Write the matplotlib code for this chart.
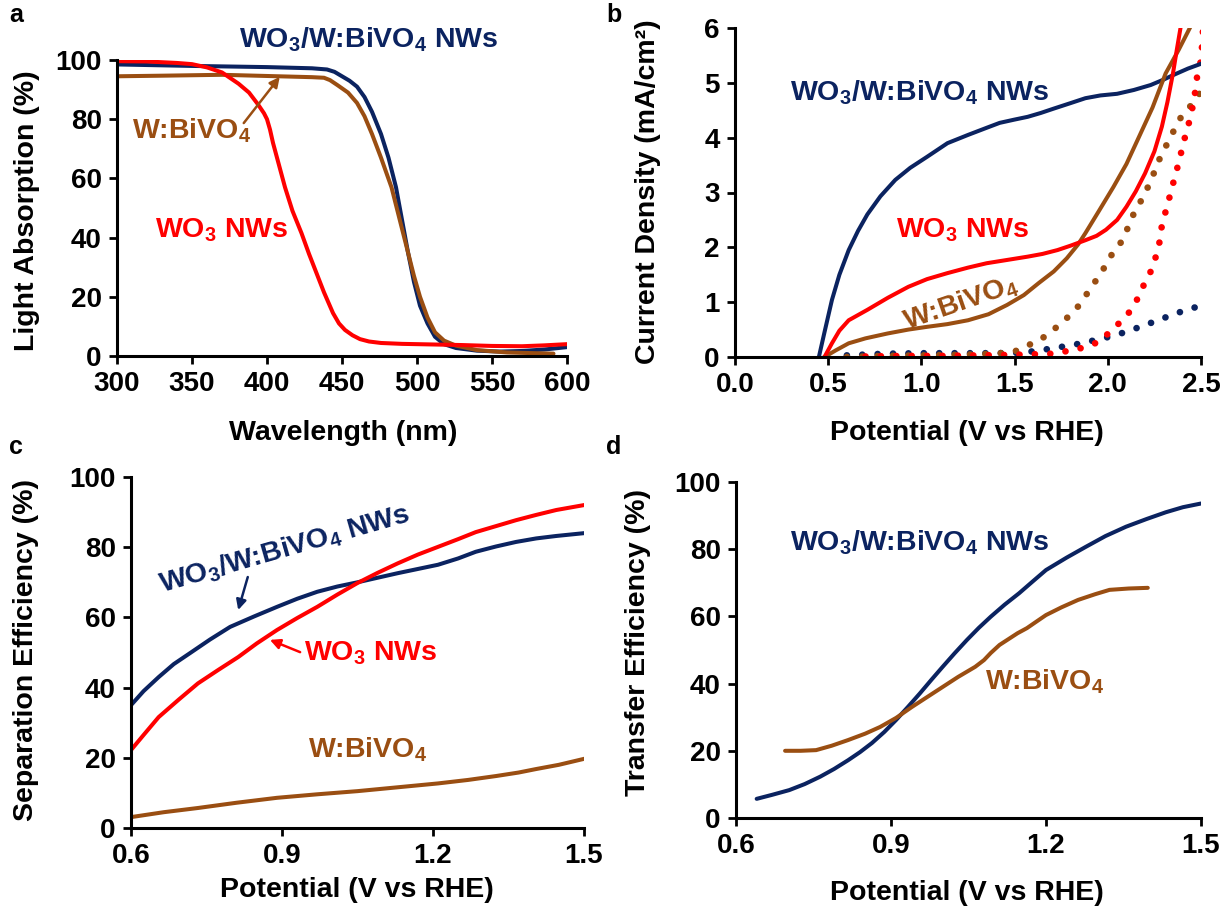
import matplotlib
matplotlib.use("Agg")
import matplotlib.pyplot as plt
import numpy as np

plt.rcParams['font.family'] = ['Liberation Sans', 'DejaVu Sans']
plt.rcParams['font.weight'] = 'bold'
plt.rcParams['mathtext.fontset'] = 'custom'
plt.rcParams['mathtext.rm'] = 'Liberation Sans:bold'
plt.rcParams['mathtext.bf'] = 'Liberation Sans:bold'
plt.rcParams['mathtext.it'] = 'Liberation Sans:bold'
plt.rcParams['mathtext.default'] = 'bf'

NAVY = '#0B2360'
RED = '#FF0000'
BROWN = '#9A4E12'

# ---------------- Panel a: light absorption ----------------
wl_navy = [300, 350, 400, 430, 440, 445, 450, 455, 460, 465, 470, 476, 481, 486, 490, 494, 498, 502, 507,
           512, 518, 526, 540, 555, 570, 585, 600]
abs_navy = [98.5, 98.0, 97.6, 97.2, 96.8, 96.0, 94.5, 93, 91, 87.5, 82.5, 75, 67, 57, 46, 35, 25, 17, 11,
            6.5, 4.0, 2.7, 1.8, 1.5, 1.7, 2.2, 3.0]
wl_brown = [300, 330, 370, 400, 430, 438, 442, 447, 454, 460, 465, 470, 476, 483, 488, 494, 498, 502, 507,
            512, 518, 526, 540, 560, 575, 591]
abs_brown = [94.5, 94.7, 95.0, 94.6, 94.2, 94.0, 93.2, 91.5, 89, 85.5, 81, 75, 67, 57, 47, 35, 27, 20, 13,
             8, 5.2, 3.5, 2.0, 1.2, 1.0, 0.8]
wl_red = [300, 320, 340, 350, 360, 370, 381, 388, 394, 398, 400, 402, 404, 408, 412, 417, 423, 428, 433,
          438, 444, 448, 452, 457, 462, 468, 476, 490, 510, 530, 550, 570, 585, 600]
abs_red = [99.6, 99.5, 99.0, 98.6, 97.5, 95.8, 92, 89, 85, 82, 80, 76.5, 72, 64.5, 57, 49, 41.5, 34.5, 28,
           21.5, 14.5, 11.0, 8.8, 7.0, 5.7, 4.9, 4.4, 4.1, 3.9, 3.7, 3.4, 3.3, 3.6, 4.0]

# ---------------- Panel b: J-V ----------------
v_navy = [0.45, 0.48, 0.52, 0.56, 0.61, 0.66, 0.71, 0.78, 0.86, 0.94, 1.03, 1.14, 1.25, 1.35, 1.42, 1.50,
          1.57, 1.64, 1.71, 1.80, 1.88, 1.96, 2.05, 2.14, 2.23, 2.30, 2.35, 2.43, 2.51]
j_navy = [0.0, 0.45, 1.04, 1.5, 1.95, 2.3, 2.6, 2.93, 3.23, 3.45, 3.65, 3.9, 4.05, 4.18, 4.27, 4.33,
          4.38, 4.45, 4.53, 4.63, 4.72, 4.77, 4.8, 4.87, 4.96, 5.06, 5.14, 5.26, 5.36]
v_red = [0.48, 0.52, 0.56, 0.61, 0.71, 0.82, 0.93, 1.03, 1.14, 1.25, 1.35, 1.46, 1.57, 1.65, 1.73, 1.80,
         1.88, 1.94, 1.99, 2.05, 2.10, 2.15, 2.20, 2.25, 2.29, 2.32, 2.35, 2.37, 2.39]
j_red = [0.0, 0.25, 0.48, 0.67, 0.86, 1.08, 1.28, 1.42, 1.53, 1.63, 1.71, 1.77, 1.83, 1.88, 1.95, 2.03,
         2.13, 2.21, 2.32, 2.5, 2.74, 3.02, 3.35, 3.75, 4.2, 4.65, 5.18, 5.6, 6.0]
v_brown = [0.48, 0.54, 0.61, 0.70, 0.82, 0.93, 1.03, 1.14, 1.25, 1.36, 1.46, 1.55, 1.63, 1.71, 1.78, 1.84,
           1.88, 1.95, 2.03, 2.10, 2.16, 2.24, 2.31, 2.38, 2.44]
j_brown = [0.0, 0.12, 0.25, 0.34, 0.43, 0.5, 0.55, 0.6, 0.67, 0.78, 0.95, 1.13, 1.35, 1.56, 1.8, 2.05,
           2.26, 2.65, 3.1, 3.52, 3.96, 4.55, 5.17, 5.6, 6.0]

vd_navy = [0.60, 0.8, 1.0, 1.2, 1.4, 1.55, 1.71, 1.86, 2.01, 2.10, 2.23, 2.37, 2.51]
jd_navy = [0.03, 0.06, 0.07, 0.07, 0.07, 0.08, 0.16, 0.25, 0.37, 0.46, 0.62, 0.8, 0.95]
vd_brown = [0.60, 0.8, 1.0, 1.2, 1.4, 1.50, 1.55, 1.63, 1.69, 1.75, 1.81, 1.86, 1.90, 1.95, 1.99, 2.03,
            2.08, 2.11, 2.14, 2.18, 2.23, 2.26, 2.29, 2.33, 2.36, 2.40, 2.45, 2.50]
jd_brown = [0.0, 0.02, 0.03, 0.04, 0.06, 0.10, 0.18, 0.30, 0.44, 0.62, 0.80, 1.0, 1.22, 1.46, 1.68, 1.92,
            2.13, 2.38, 2.62, 2.86, 3.2, 3.47, 3.71, 3.96, 4.17, 4.42, 4.6, 4.84]
vd_red = [0.70, 0.9, 1.1, 1.3, 1.5, 1.7, 1.82, 1.90, 1.97, 2.02, 2.08, 2.13, 2.17, 2.20, 2.24, 2.26, 2.28,
          2.29, 2.31, 2.33, 2.35, 2.37, 2.39, 2.41, 2.43, 2.45, 2.47, 2.48, 2.50, 2.505, 2.51]
jd_red = [0.01, 0.02, 0.02, 0.03, 0.04, 0.06, 0.13, 0.2, 0.31, 0.5, 0.67, 0.88, 1.13, 1.37, 1.62, 1.86, 2.13,
          2.4, 2.65, 2.9, 3.16, 3.41, 3.68, 3.96, 4.2, 4.47, 4.86, 5.14, 5.41, 5.65, 5.93]

# ---------------- Panel c: separation efficiency ----------------
vc_navy = [0.6, 0.625, 0.655, 0.685, 0.717, 0.757, 0.797, 0.845, 0.89, 0.93, 0.97, 1.01, 1.05, 1.09, 1.13,
           1.17, 1.21, 1.25, 1.285, 1.325, 1.365, 1.405, 1.445, 1.5]
sep_navy = [35, 39, 43, 46.7, 49.8, 53.7, 57.3, 60.3, 63, 65.3, 67.3, 68.8, 70, 71.3, 72.6,
            73.8, 75, 76.8, 78.7, 80.2, 81.5, 82.5, 83.2, 84]
vc_red = [0.6, 0.625, 0.655, 0.695, 0.733, 0.773, 0.813, 0.85, 0.89, 0.93, 0.97, 1.01, 1.05, 1.09, 1.13,
          1.17, 1.21, 1.25, 1.285, 1.325, 1.365, 1.405, 1.445, 1.5]
sep_red = [22.2, 26.5, 31.6, 36.6, 41.2, 45, 48.7, 52.6, 56.4, 59.8, 63, 66.5, 69.8, 72.7, 75.4,
           77.9, 80.1, 82.3, 84.3, 86, 87.7, 89.2, 90.6, 92]
vc_brown = [0.6, 0.665, 0.733, 0.81, 0.89, 0.97, 1.05, 1.13, 1.21, 1.27, 1.325, 1.37, 1.405, 1.45, 1.5]
sep_brown = [3.1, 4.5, 5.7, 7.2, 8.6, 9.6, 10.5, 11.6, 12.7, 13.7, 14.8, 15.8, 16.8, 18.0, 19.7]

# ---------------- Panel d: transfer efficiency ----------------
vt_navy = [0.64, 0.67, 0.703, 0.733, 0.763, 0.79, 0.817, 0.84, 0.863, 0.887, 0.91, 0.933, 0.956, 0.978,
           1.0, 1.023, 1.047, 1.07, 1.093, 1.12, 1.148, 1.175, 1.2, 1.24, 1.277, 1.315, 1.355, 1.395,
           1.432, 1.465, 1.5]
tr_navy = [5.7, 6.9, 8.3, 10.1, 12.3, 14.6, 17.2, 19.6, 22.3, 25.6, 29.2, 33.1, 37.1, 41.1,
           45, 49, 53, 56.6, 59.9, 63.5, 66.9, 70.5, 73.8, 77.5, 80.7, 83.9, 86.7, 89,
           91, 92.5, 93.6]
vt_brown = [0.695, 0.725, 0.755, 0.785, 0.817, 0.85, 0.879, 0.91, 0.94, 0.97, 1.0, 1.03, 1.063, 1.08,
            1.093, 1.11, 1.125, 1.145, 1.163, 1.18, 1.2, 1.23, 1.262, 1.295, 1.323, 1.36, 1.397]
tr_brown = [20, 20, 20.2, 21.5, 23.2, 25.1, 27.1, 29.8, 33, 36, 39, 42, 45, 47,
            49.1, 51.5, 53, 55, 56.5, 58.3, 60.4, 62.7, 64.9, 66.6, 67.9, 68.3, 68.5]

W, H = 1231, 914
fig = plt.figure(figsize=(W / 100, H / 100), dpi=100)

def add_ax(x0, x1, ytop, ybot):
    return fig.add_axes([x0 / W, 1 - ybot / H, (x1 - x0) / W, (ybot - ytop) / H])

axa = add_ax(117, 567, 60, 356)
axb = add_ax(735, 1201, 28, 357)
axc = add_ax(131, 584, 477, 828)
axd = add_ax(736, 1201, 482, 818)

FS = 20
AFS = 20.5
LW = 2.9
for ax in (axa, axb, axc, axd):
    for s in ('top', 'right'):
        ax.spines[s].set_visible(False)
    for s in ('left', 'bottom'):
        ax.spines[s].set_linewidth(2.2)
    ax.tick_params(direction='out', length=6, width=2.0, labelsize=FS, pad=5)

def labels(ax, xl, yl, xpx, ypx):
    ax.set_xlabel(xl, fontsize=AFS, fontweight='bold')
    ax.set_ylabel(yl, fontsize=AFS, fontweight='bold')
    inv = ax.transAxes.inverted()
    xx, xy = inv.transform((xpx[0], H - xpx[1]))
    yx, yy = inv.transform((ypx[0], H - ypx[1]))
    ax.xaxis.set_label_coords(xx, xy)
    ax.yaxis.set_label_coords(yx, yy)
    ax.xaxis.label.set_va('center')
    ax.yaxis.label.set_va('center')

txt = dict(fontsize=AFS, fontweight='bold', va='center')
arrow = dict(arrowstyle='-|>', lw=1.8, mutation_scale=15, shrinkA=0, shrinkB=0)

# Panel a
axa.plot(wl_navy, abs_navy, color=NAVY, lw=LW, solid_capstyle='round', solid_joinstyle='round')
axa.plot(wl_brown, abs_brown, color=BROWN, lw=LW, solid_capstyle='round', solid_joinstyle='round')
axa.plot(wl_red, abs_red, color=RED, lw=LW, solid_capstyle='round', solid_joinstyle='round')
axa.set_xlim(300, 600)
axa.set_ylim(0, 100)
axa.set_xticks(range(300, 601, 50))
axa.set_yticks(range(0, 101, 20))
axa.text(468, 106.8, r'WO$_3$/W:BiVO$_4$ NWs', color=NAVY, ha='center', **txt)
axa.text(310, 76, r'W:BiVO$_4$', color=BROWN, ha='left', **txt)
axa.annotate('', xy=(408.5, 94.3), xytext=(384.5, 78.7), arrowprops=dict(color=BROWN, **arrow))
axa.text(370, 42.6, r'WO$_3$ NWs', color=RED, ha='center', **txt)

# Panel b
dot = dict(linestyle=(0, (0.01, 2.3)), dash_capstyle='round', lw=4.8)
axb.plot(vd_navy, jd_navy, color=NAVY, **dot)
axb.plot(vd_brown, jd_brown, color=BROWN, **dot)
axb.plot(vd_red, jd_red, color=RED, **dot)
axb.plot(v_navy, j_navy, color=NAVY, lw=LW, solid_joinstyle='round')
axb.plot(v_brown, j_brown, color=BROWN, lw=LW, solid_joinstyle='round')
axb.plot(v_red, j_red, color=RED, lw=LW, solid_joinstyle='round')
axb.set_xlim(0, 2.5)
axb.set_ylim(0, 6)
axb.set_xticks(np.arange(0, 2.51, 0.5))
axb.set_xticklabels(['0.0', '0.5', '1.0', '1.5', '2.0', '2.5'])
axb.set_yticks(range(0, 7))
axb.text(0.99, 4.82, r'WO$_3$/W:BiVO$_4$ NWs', color=NAVY, ha='center', **txt)
axb.text(1.22, 2.32, r'WO$_3$ NWs', color=RED, ha='center', **txt)
axb.text(1.21, 0.99, r'W:BiVO$_4$', color=BROWN, ha='center', rotation=19, rotation_mode='anchor', **txt)

# Panel c
axc.plot(vc_navy, sep_navy, color=NAVY, lw=LW, solid_joinstyle='round')
axc.plot(vc_red, sep_red, color=RED, lw=LW, solid_joinstyle='round')
axc.plot(vc_brown, sep_brown, color=BROWN, lw=LW, solid_joinstyle='round')
axc.set_xlim(0.6, 1.5)
axc.set_ylim(0, 100)
axc.set_xticks([0.6, 0.9, 1.2, 1.5])
axc.set_xticklabels(['0.6', '0.9', '1.2', '1.5'])
axc.set_yticks(range(0, 101, 20))
axc.text(0.906, 79.2, r'WO$_3$/W:BiVO$_4$ NWs', color=NAVY, ha='center', rotation=16, rotation_mode='anchor', **txt)
axc.annotate('', xy=(0.813, 62.1), xytext=(0.832, 71.5), arrowprops=dict(color=NAVY, **arrow))
axc.text(1.077, 49.9, r'WO$_3$ NWs', color=RED, ha='center', **txt)
axc.annotate('', xy=(0.876, 53.6), xytext=(0.936, 50.1), arrowprops=dict(color=RED, **arrow))
axc.text(1.071, 22.2, r'W:BiVO$_4$', color=BROWN, ha='center', **txt)

# Panel d
axd.plot(vt_navy, tr_navy, color=NAVY, lw=LW, solid_capstyle='round', solid_joinstyle='round')
axd.plot(vt_brown, tr_brown, color=BROWN, lw=LW, solid_capstyle='round', solid_joinstyle='round')
axd.set_xlim(0.6, 1.5)
axd.set_ylim(0, 100)
axd.set_xticks([0.6, 0.9, 1.2, 1.5])
axd.set_xticklabels(['0.6', '0.9', '1.2', '1.5'])
axd.set_yticks(range(0, 101, 20))
axd.text(0.956, 81.8, r'WO$_3$/W:BiVO$_4$ NWs', color=NAVY, ha='center', **txt)
axd.text(1.198, 40.5, r'W:BiVO$_4$', color=BROWN, ha='center', **txt)

for ax in (axa, axb, axc, axd):
    for lab in ax.get_xticklabels() + ax.get_yticklabels():
        lab.set_fontweight('bold')

labels(axa, 'Wavelength (nm)', 'Light Absorption (%)', (343, 433), (27, 211))
labels(axb, 'Potential (V vs RHE)', 'Current Density (mA/cm²)', (967, 433), (648, 192))
labels(axc, 'Potential (V vs RHE)', 'Separation Efficiency (%)', (357, 890), (26, 650))
labels(axd, 'Potential (V vs RHE)', 'Transfer Efficiency (%)', (967, 893), (638, 643))

for t, (px, py) in zip('abcd', [(16, 15), (614, 15), (16, 447), (614, 447)]):
    fig.text(px / W, 1 - py / H, t, fontsize=18, fontweight='bold', ha='center', va='center')

fig.savefig('out.png', dpi=100)
